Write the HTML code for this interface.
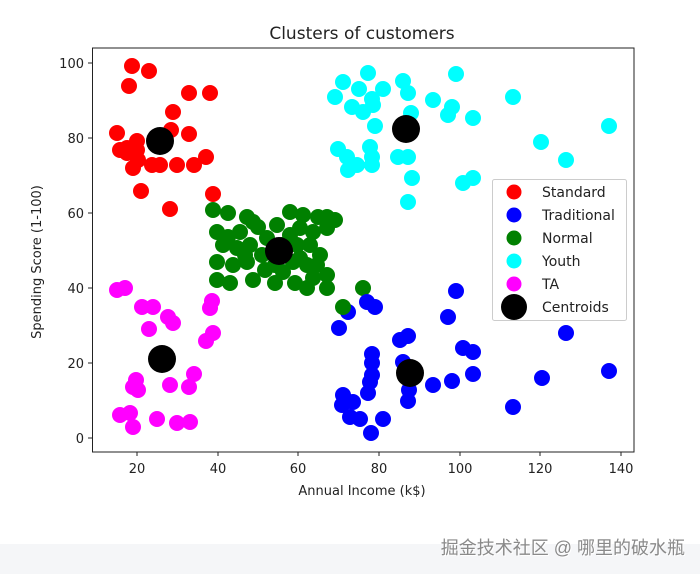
<!DOCTYPE html>
<html><head><meta charset="utf-8"><style>
html,body{margin:0;padding:0;background:#fff;}
svg{display:block}
text{font-family:"DejaVu Sans","Liberation Sans",sans-serif;fill:#222}
</style></head><body>
<svg width="700" height="574" viewBox="0 0 700 574" xmlns="http://www.w3.org/2000/svg">
<rect x="0" y="0" width="700" height="574" fill="#fff"/>
<rect x="0" y="544" width="700" height="30" fill="#f5f6f8"/>
<text x="362" y="39" font-size="17" text-anchor="middle">Clusters of customers</text>
<g fill="#ff0000">
<circle cx="132" cy="66" r="8"/><circle cx="149" cy="71" r="8"/><circle cx="129" cy="86" r="8"/><circle cx="189" cy="93" r="8"/><circle cx="210" cy="93" r="8"/><circle cx="173" cy="112" r="8"/><circle cx="171" cy="130" r="8"/><circle cx="189" cy="134" r="8"/><circle cx="117" cy="133" r="8"/><circle cx="137" cy="141" r="8"/><circle cx="120" cy="150" r="8"/><circle cx="127" cy="153" r="8"/><circle cx="137" cy="150" r="8"/><circle cx="133" cy="168" r="8"/><circle cx="152" cy="165" r="8"/><circle cx="160" cy="165" r="8"/><circle cx="177" cy="165" r="8"/><circle cx="194" cy="165" r="8"/><circle cx="206" cy="157" r="8"/><circle cx="141" cy="191" r="8"/><circle cx="213" cy="194" r="8"/><circle cx="170" cy="209" r="8"/><circle cx="138" cy="160" r="8"/><circle cx="127" cy="148" r="8"/>
</g>
<g fill="#ff00ff">
<circle cx="117" cy="290" r="8"/><circle cx="125" cy="288" r="8"/><circle cx="142" cy="307" r="8"/><circle cx="153" cy="307" r="8"/><circle cx="168" cy="317" r="8"/><circle cx="173" cy="323" r="8"/><circle cx="149" cy="329" r="8"/><circle cx="212" cy="301" r="8"/><circle cx="210" cy="308" r="8"/><circle cx="213" cy="333" r="8"/><circle cx="206" cy="341" r="8"/><circle cx="136" cy="380" r="8"/><circle cx="133" cy="387" r="8"/><circle cx="138" cy="390" r="8"/><circle cx="170" cy="385" r="8"/><circle cx="194" cy="374" r="8"/><circle cx="189" cy="387" r="8"/><circle cx="120" cy="415" r="8"/><circle cx="130" cy="413" r="8"/><circle cx="133" cy="427" r="8"/><circle cx="157" cy="419" r="8"/><circle cx="177" cy="423" r="8"/><circle cx="190" cy="422" r="8"/>
</g>
<g fill="#008000">
<circle cx="213" cy="210" r="8"/><circle cx="228" cy="213" r="8"/><circle cx="247" cy="217" r="8"/><circle cx="253" cy="222" r="8"/><circle cx="290" cy="212" r="8"/><circle cx="303" cy="215" r="8"/><circle cx="318" cy="217" r="8"/><circle cx="335" cy="220" r="8"/><circle cx="217" cy="232" r="8"/><circle cx="228" cy="237" r="8"/><circle cx="240" cy="232" r="8"/><circle cx="258" cy="227" r="8"/><circle cx="277" cy="225" r="8"/><circle cx="300" cy="228" r="8"/><circle cx="313" cy="232" r="8"/><circle cx="327" cy="228" r="8"/><circle cx="223" cy="245" r="8"/><circle cx="237" cy="248" r="8"/><circle cx="250" cy="245" r="8"/><circle cx="262" cy="255" r="8"/><circle cx="297" cy="245" r="8"/><circle cx="310" cy="245" r="8"/><circle cx="320" cy="255" r="8"/><circle cx="217" cy="262" r="8"/><circle cx="233" cy="265" r="8"/><circle cx="247" cy="262" r="8"/><circle cx="275" cy="265" r="8"/><circle cx="293" cy="262" r="8"/><circle cx="307" cy="265" r="8"/><circle cx="317" cy="265" r="8"/><circle cx="327" cy="275" r="8"/><circle cx="217" cy="280" r="8"/><circle cx="230" cy="283" r="8"/><circle cx="253" cy="280" r="8"/><circle cx="275" cy="283" r="8"/><circle cx="295" cy="283" r="8"/><circle cx="307" cy="288" r="8"/><circle cx="327" cy="288" r="8"/><circle cx="282" cy="245" r="8"/><circle cx="283" cy="272" r="8"/><circle cx="267" cy="238" r="8"/><circle cx="300" cy="258" r="8"/><circle cx="313" cy="278" r="8"/><circle cx="363" cy="288" r="8"/><circle cx="327" cy="217" r="8"/><circle cx="245" cy="255" r="8"/><circle cx="265" cy="270" r="8"/><circle cx="290" cy="235" r="8"/>
</g>
<g fill="#00ffff">
<circle cx="343" cy="82" r="8"/><circle cx="368" cy="73" r="8"/><circle cx="335" cy="97" r="8"/><circle cx="359" cy="89" r="8"/><circle cx="383" cy="89" r="8"/><circle cx="403" cy="81" r="8"/><circle cx="408" cy="93" r="8"/><circle cx="456" cy="74" r="8"/><circle cx="433" cy="100" r="8"/><circle cx="452" cy="107" r="8"/><circle cx="448" cy="115" r="8"/><circle cx="473" cy="118" r="8"/><circle cx="513" cy="97" r="8"/><circle cx="372" cy="99" r="8"/><circle cx="352" cy="107" r="8"/><circle cx="363" cy="112" r="8"/><circle cx="373" cy="105" r="8"/><circle cx="375" cy="126" r="8"/><circle cx="411" cy="113" r="8"/><circle cx="609" cy="126" r="8"/><circle cx="541" cy="142" r="8"/><circle cx="566" cy="160" r="8"/><circle cx="338" cy="149" r="8"/><circle cx="347" cy="157" r="8"/><circle cx="348" cy="170" r="8"/><circle cx="357" cy="165" r="8"/><circle cx="370" cy="147" r="8"/><circle cx="372" cy="157" r="8"/><circle cx="372" cy="165" r="8"/><circle cx="398" cy="157" r="8"/><circle cx="408" cy="157" r="8"/><circle cx="412" cy="178" r="8"/><circle cx="463" cy="183" r="8"/><circle cx="473" cy="178" r="8"/><circle cx="408" cy="202" r="8"/>
</g>
<g fill="#0000ff">
<circle cx="456" cy="291" r="8"/><circle cx="448" cy="317" r="8"/><circle cx="367" cy="302" r="8"/><circle cx="375" cy="307" r="8"/><circle cx="348" cy="312" r="8"/><circle cx="339" cy="328" r="8"/><circle cx="566" cy="333" r="8"/><circle cx="400" cy="340" r="8"/><circle cx="408" cy="336" r="8"/><circle cx="463" cy="348" r="8"/><circle cx="473" cy="352" r="8"/><circle cx="372" cy="354" r="8"/><circle cx="372" cy="363" r="8"/><circle cx="372" cy="375" r="8"/><circle cx="370" cy="382" r="8"/><circle cx="403" cy="362" r="8"/><circle cx="473" cy="374" r="8"/><circle cx="452" cy="381" r="8"/><circle cx="433" cy="385" r="8"/><circle cx="409" cy="390" r="8"/><circle cx="408" cy="401" r="8"/><circle cx="609" cy="371" r="8"/><circle cx="542" cy="378" r="8"/><circle cx="513" cy="407" r="8"/><circle cx="368" cy="393" r="8"/><circle cx="343" cy="395" r="8"/><circle cx="342" cy="405" r="8"/><circle cx="353" cy="402" r="8"/><circle cx="350" cy="417" r="8"/><circle cx="360" cy="419" r="8"/><circle cx="383" cy="419" r="8"/><circle cx="371" cy="433" r="8"/>
</g>
<circle cx="343" cy="307" r="8" fill="#008000"/>
<g fill="#000">
<circle cx="160" cy="141" r="14"/><circle cx="279" cy="251" r="14"/><circle cx="162" cy="359" r="14"/><circle cx="406" cy="129" r="14"/><circle cx="410" cy="373" r="14"/>
</g>
<rect x="92.5" y="48" width="541.5" height="404" fill="none" stroke="#222" stroke-width="1"/>
<g stroke="#222" stroke-width="1">
<line x1="137" y1="452" x2="137" y2="456"/><line x1="218" y1="452" x2="218" y2="456"/><line x1="298" y1="452" x2="298" y2="456"/><line x1="379" y1="452" x2="379" y2="456"/><line x1="460" y1="452" x2="460" y2="456"/><line x1="540" y1="452" x2="540" y2="456"/><line x1="621" y1="452" x2="621" y2="456"/>
<line x1="88" y1="63" x2="92" y2="63"/><line x1="88" y1="138" x2="92" y2="138"/><line x1="88" y1="213" x2="92" y2="213"/><line x1="88" y1="288" x2="92" y2="288"/><line x1="88" y1="363" x2="92" y2="363"/><line x1="88" y1="438" x2="92" y2="438"/>
</g>
<g font-size="13" text-anchor="middle">
<text x="137" y="473">20</text><text x="218" y="473">40</text><text x="298" y="473">60</text><text x="379" y="473">80</text><text x="460" y="473">100</text><text x="540" y="473">120</text><text x="621" y="473">140</text>
</g>
<g font-size="13" text-anchor="end">
<text x="84" y="68">100</text><text x="84" y="143">80</text><text x="84" y="218">60</text><text x="84" y="293">40</text><text x="84" y="368">20</text><text x="84" y="443">0</text>
</g>
<text x="362" y="495" font-size="13" text-anchor="middle">Annual Income (k$)</text>
<text transform="translate(41,262) rotate(-90)" font-size="13" text-anchor="middle">Spending Score (1-100)</text>
<rect x="492.5" y="179.5" width="134" height="141" rx="2" fill="#fff" fill-opacity="0.85" stroke="#ccc"/>
<circle cx="514" cy="192" r="7.5" fill="#ff0000"/>
<circle cx="514" cy="215" r="7.5" fill="#0000ff"/>
<circle cx="514" cy="238" r="7.5" fill="#008000"/>
<circle cx="514" cy="261" r="7.5" fill="#00ffff"/>
<circle cx="514" cy="284" r="7.5" fill="#ff00ff"/>
<circle cx="514" cy="307" r="13" fill="#000"/>
<g font-size="14">
<text x="542" y="197">Standard</text><text x="542" y="220">Traditional</text><text x="542" y="243">Normal</text><text x="542" y="266">Youth</text><text x="542" y="289">TA</text><text x="542" y="312">Centroids</text>
</g>
<text x="685" y="554" font-size="18" text-anchor="end" style="font-family:'Liberation Sans','Noto Sans CJK SC',sans-serif;fill:#8a8a8a;text-shadow:1px 1px 0 #fff">掘金技术社区 @ 哪里的破水瓶</text>
</svg>
</body></html>
